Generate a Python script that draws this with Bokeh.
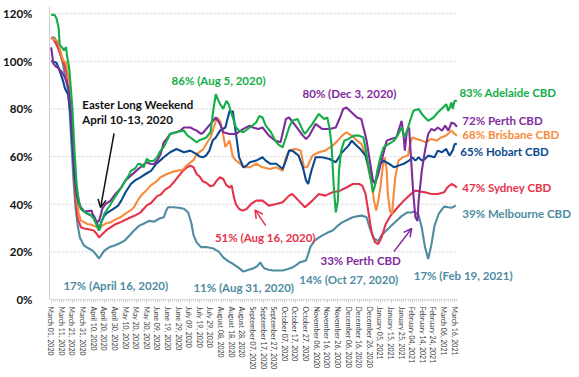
import pandas as pd
from bokeh.plotting import figure
from bokeh.models import (FixedTicker, DatetimeTickFormatter, PrintfTickFormatter,
                          Label, Arrow, OpenHead, Range1d)
from bokeh.embed import file_html
from bokeh.resources import INLINE

START = pd.Timestamp("2020-03-01")
START_MS = START.value // 10**6
DAY_MS = 86400000


def ms(d):
    return START_MS + d * DAY_MS


# ---- data: day offset from March 1, 2020 and % of pre-COVID activity ----
adelaide_day = [0, 3, 5, 7, 8, 10, 12, 14, 15, 17, 20, 22, 24, 26, 28, 31, 34, 37, 40, 43, 45, 47, 50, 53,
                56, 60, 63, 66, 70, 73, 75, 79, 82, 84, 87, 90, 93, 97, 100, 103, 106, 109, 112, 115, 118,
                121, 125, 128, 131, 134, 137, 140, 143, 146, 150, 153, 155, 157, 159, 162, 165, 167, 168,
                171, 174, 177, 181, 187, 193, 196, 199, 202, 207, 211, 214, 218, 221, 224, 227, 232, 237,
                239, 246, 252, 257, 260, 262, 264, 266, 268, 270, 271, 273, 276, 280, 285, 290, 294, 297,
                300, 303, 305, 307, 310, 313, 318, 323, 327, 330, 333, 336, 339, 341, 346, 349, 352, 355,
                360, 364, 369, 372, 374, 377, 378, 380, 382]
adelaide_pct = [119.5, 119.5, 118, 114, 107, 106, 104.5, 106, 102, 97, 80, 62, 48, 41, 38, 37, 36, 35.5, 34,
                31, 29, 32, 36, 38, 40, 43, 45, 47, 50, 52, 54, 55, 57, 56.9, 55.5, 59, 58, 58.3, 60, 62.5,
                64, 66.7, 69.5, 70, 70.2, 70.5, 70.9, 69, 68, 67, 66, 67, 67.4, 68, 70.2, 80.6, 86.2, 84, 82,
                80, 83.4, 82, 80.6, 76.4, 72.2, 70.9, 70.2, 72.2, 74.3, 77, 76.4, 73, 70.2, 66.7, 65, 63.9,
                68, 72.2, 75, 75.8, 70.9, 69.5, 73.7, 77.9, 75.8, 76.4, 72.2, 65, 48, 36.6, 41.5, 54, 62.5,
                66.7, 67.4, 68.8, 68.8, 68, 61, 52.7, 45, 48, 54, 59.7, 63.9, 65.3, 66.7, 69.5, 72.2, 68,
                72.2, 76.4, 79.2, 80, 77.9, 76.4, 75, 76.4, 78.5, 80.6, 82, 79.2, 82.7, 80, 83.4, 83.4]

perth_day = [0, 2, 4, 7, 10, 12, 14, 16, 18, 20, 22, 24, 26, 28, 31, 34, 38, 40, 43, 45, 47, 48, 51, 56, 60,
             63, 66, 70, 75, 80, 84, 90, 93, 97, 100, 103, 106, 109, 112, 118, 122, 125, 131, 134, 137,
             141, 143, 150, 155, 159, 162, 168, 174, 181, 187, 190, 195, 199, 205, 211, 216, 221, 224,
             230, 237, 240, 243, 249, 255, 262, 268, 272, 275, 278, 283, 288, 292, 294, 297, 300, 303,
             305, 308, 311, 316, 320, 325, 328, 330, 332, 333, 335, 337, 339, 341, 343, 345, 346, 349,
             352, 355, 358, 361, 364, 368, 371, 374, 377, 380, 382]
perth_pct = [105.8, 99, 98, 97, 95.5, 94, 92, 89, 82, 70, 57, 46, 41.5, 38, 37, 37, 37.3, 34.5, 32.4, 33, 36,
             38, 40, 41.5, 44, 45.5, 47, 50, 52, 54, 55.5, 57.6, 57, 56.9, 58.5, 61, 66, 67.5, 69.5, 70.2,
             71, 72.2, 72.2, 71.5, 70.9, 69.5, 70, 73.7, 76.4, 73.7, 70.2, 69.5, 69.5, 71.6, 73, 72.2,
             71.6, 72.2, 68.8, 66.7, 66, 75.8, 76.4, 73, 68.8, 67.4, 68.8, 73.7, 71.6, 71.6, 72.2, 76.4,
             80, 80.6, 78.5, 76.4, 75.8, 72.2, 66.7, 58.3, 50, 48.5, 52.7, 58.3, 66.7, 67.4, 68, 72.2, 75,
             68, 62.5, 70.9, 72.2, 58.3, 44.3, 34.5, 33, 41.5, 54, 62.5, 69.5, 71.6, 70.9, 72.2, 70.9, 73,
             70.9, 74.3, 73.7, 72.5]

brisbane_day = [0, 3, 6, 9, 10, 12, 14, 16, 18, 20, 22, 24, 26, 28, 31, 34, 37, 40, 43, 45, 48, 52, 56, 60,
                65, 70, 75, 78, 82, 86, 90, 94, 99, 103, 109, 114, 118, 124, 127, 131, 134, 137, 143, 147,
                150, 153, 156, 159, 162, 164, 168, 171, 174, 178, 181, 187, 193, 199, 206, 212, 218, 221,
                224, 230, 235, 238, 241, 246, 252, 258, 265, 270, 274, 278, 283, 288, 292, 296, 299, 302,
                304, 306, 308, 310, 311, 313, 314, 316, 317, 319, 321, 322, 324, 327, 331, 336, 338, 340,
                344, 349, 353, 358, 363, 367, 372, 377, 380, 382]
brisbane_pct = [110, 109, 108.6, 104, 102, 100, 99.4, 94, 85, 70, 55, 42, 36, 33, 32.5, 31.7, 31.5, 31, 30.3,
                29.5, 31, 32, 32.4, 33.5, 34.5, 36, 37.5, 38.7, 42, 44.3, 46, 48, 49.5, 51.3, 52.7, 53.5, 54,
                54.5, 56, 57.5, 58.5, 61, 63, 66, 68, 72, 76.4, 75, 69, 64, 66.7, 60, 58.3, 57, 55.5, 55.5,
                57, 55.5, 54.8, 55.5, 54, 59.7, 62.5, 63.2, 62.5, 55.5, 55.5, 60.4, 61.8, 62.5, 64.6, 66.7,
                68.8, 70.2, 68.8, 66.7, 65.3, 61, 54, 48.5, 41.5, 37.3, 41.5, 47, 51.3, 58.3, 59.7, 54, 44.3,
                37.3, 36, 41.5, 51.3, 58.3, 59.7, 60.4, 65.3, 68, 67.4, 66.7, 66, 67.4, 66.7, 68, 68.8, 70.9,
                69.5, 68.8]

hobart_day = [0, 2, 5, 8, 11, 13, 16, 18, 20, 22, 24, 26, 28, 31, 34, 37, 40, 43, 45, 47, 50, 53, 56, 60, 63,
              66, 70, 75, 79, 84, 90, 94, 99, 103, 106, 112, 118, 125, 131, 137, 140, 143, 146, 149, 152,
              155, 159, 164, 168, 170, 171, 174, 177, 181, 184, 187, 193, 199, 202, 206, 212, 218, 221,
              224, 227, 233, 237, 240, 242, 245, 249, 255, 262, 268, 271, 274, 280, 283, 286, 291, 296,
              299, 302, 305, 307, 310, 313, 318, 323, 327, 332, 337, 340, 343, 346, 349, 352, 355, 361,
              364, 368, 372, 375, 378, 380, 382]
hobart_pct = [100, 99.8, 99.4, 96, 92, 88.5, 86, 78, 65, 52, 44, 40, 38.7, 37, 36, 35.5, 35.2, 32.4, 29, 32.4,
              35.2, 36.5, 37.3, 38.5, 39.4, 41.5, 45, 48.5, 50, 51.3, 53, 54, 57, 58.5, 59.7, 61.8, 63.2,
              61.8, 62.5, 61, 60, 59.7, 60.5, 62.5, 66.7, 68, 70.9, 72.2, 79.2, 78.5, 79.2, 69.5, 59.7,
              55.5, 56.2, 57.6, 58.3, 59.7, 58.3, 57, 57, 54.8, 58.3, 62.5, 62.5, 60.4, 55.5, 50, 48.5, 54,
              59.7, 59.7, 59, 57.6, 59.7, 61.8, 64.6, 66.7, 65.3, 63.2, 60.4, 55.5, 50, 49.2, 52, 57, 58.3,
              57, 55.5, 56.2, 57, 58.3, 59.7, 58.3, 59.7, 58.3, 59, 60.4, 59.7, 62.5, 61.8, 63.2, 60.4,
              62.5, 65.3, 65.3]

sydney_day = [0, 3, 6, 8, 11, 13, 15, 17, 19, 21, 23, 25, 28, 31, 34, 37, 40, 43, 45, 47, 50, 53, 56, 60, 65,
              70, 75, 80, 84, 87, 90, 94, 97, 100, 103, 107, 112, 115, 119, 124, 128, 131, 134, 137, 140,
              143, 146, 150, 153, 156, 159, 162, 165, 168, 170, 172, 174, 177, 180, 184, 188, 193, 199,
              205, 211, 218, 224, 227, 233, 239, 246, 252, 258, 265, 271, 278, 284, 290, 293, 296, 299,
              302, 305, 308, 311, 315, 320, 326, 332, 338, 343, 348, 352, 358, 364, 370, 373, 377, 380, 382]
sydney_pct = [110, 108.6, 106, 103.6, 100, 98, 94, 88, 75, 58, 42, 34, 30.3, 29.8, 29.6, 29.3, 29, 27.5, 26,
              27, 28.2, 29.5, 30.3, 31.5, 32.4, 33.5, 34.5, 35.5, 36.5, 38, 39.5, 40.5, 42, 43.5, 44, 46,
              47.5, 49, 51.3, 54, 55.5, 56.2, 55.5, 52.7, 51.5, 49.5, 49, 47.5, 48, 50, 51.3, 50.6, 48, 47,
              47.8, 43, 40, 38, 37.3, 38, 40, 41.5, 41.5, 39.4, 40, 40.8, 43.6, 44.3, 41.5, 38.7, 41.5,
              44.3, 43.6, 45, 45.5, 47, 48.5, 48.5, 47.8, 44.3, 36, 27.5, 24, 23.3, 26, 31.7, 35.5, 38.5,
              41.5, 44, 45.7, 45.3, 45, 44.3, 44.3, 45, 47, 48.5, 47.8, 47]

melbourne_day = [0, 3, 6, 8, 11, 13, 15, 17, 19, 21, 23, 25, 27, 31, 35, 39, 42, 45, 47, 50, 55, 59, 64, 69,
                 74, 78, 83, 87, 92, 97, 102, 106, 108, 110, 115, 120, 125, 129, 132, 134, 137, 141, 146,
                 153, 158, 162, 167, 171, 176, 181, 186, 190, 194, 197, 199, 201, 205, 209, 213, 218, 223,
                 227, 231, 234, 237, 240, 242, 244, 248, 252, 255, 260, 265, 270, 274, 279, 284, 289, 293,
                 297, 300, 304, 308, 311, 318, 324, 330, 335, 339, 342, 346, 349, 352, 355, 358, 361, 365,
                 370, 374, 377, 381]
melbourne_pct = [110, 110, 107, 104, 99, 94, 90, 82, 66, 50, 38, 31, 26, 22.6, 21.5, 20.5, 19, 17.2, 18.5,
                 20.5, 22, 22.6, 23.5, 24.7, 27, 29, 31, 31.8, 33, 32.7, 34, 34.5, 37, 38.7, 38.7, 38.5, 38.1,
                 36.5, 32, 27, 24, 22, 22, 21.4, 20, 17.7, 16, 15, 13.5, 11.7, 12.5, 13, 14, 15.6, 14, 13,
                 12.5, 12.2, 12.2, 12.2, 12.8, 13.4, 14.5, 15.6, 16, 16.4, 19, 22, 24.7, 26, 26.8, 28, 29, 31,
                 32.4, 33.5, 34.5, 35, 35.2, 34.5, 30, 25.6, 24.5, 27, 30, 32.5, 35, 36.5, 36.5, 37, 35.5, 30,
                 22, 17, 23, 31, 36, 39, 38.7, 38.5, 39.4]

x_tick_days = list(range(0, 381, 10))
y_ticks = [0, 20, 40, 60, 80, 100, 120]

series = [
    (melbourne_day, melbourne_pct, "#4E8CA2"),
    (sydney_day, sydney_pct, "#E5334B"),
    (brisbane_day, brisbane_pct, "#F78B3D"),
    (hobart_day, hobart_pct, "#0B4A8E"),
    (perth_day, perth_pct, "#7F2B9C"),
    (adelaide_day, adelaide_pct, "#14AE48"),
]

FONT = "Lato"
AXIS_START = -1.6   # day at left frame edge
AXIS_END = 382.5    # day where the axis line / grid stop
VIEW_END = 497.5    # right edge of the canvas (room for end labels)

p = figure(width=579, height=377, x_axis_type="datetime",
           x_range=Range1d(ms(AXIS_START), ms(VIEW_END)), y_range=Range1d(0, 123),
           output_backend="svg", toolbar_location=None,
           min_border_left=45, min_border_right=0, min_border_top=6, min_border_bottom=78)
p.outline_line_color = None
p.background_fill_color = "white"

# gridlines and axis line limited to the data span
grid_y = y_ticks[1:]
p.segment(x0=[ms(AXIS_START)] * len(grid_y), x1=[ms(AXIS_END)] * len(grid_y), y0=grid_y, y1=grid_y,
          line_color="#cfcfcf", line_dash="2 2", line_width=1)
p.segment(x0=[ms(AXIS_START)], x1=[ms(AXIS_END)], y0=[0], y1=[0], line_color="#bfbfbf", line_width=1)

for days, vals, col in series:
    p.line([ms(d) for d in days], vals, line_color=col, line_width=2.1)

# axes
p.xaxis.ticker = FixedTicker(ticks=[ms(d) for d in x_tick_days],
                             minor_ticks=[ms(d) for d in range(0, 383, 2)])
fmt = "%B %d, %Y"
p.xaxis.formatter = DatetimeTickFormatter(days=fmt, months=fmt, years=fmt, hours=fmt,
                                          hourmin=fmt, minutes=fmt, minsec=fmt, seconds=fmt,
                                          milliseconds=fmt, microseconds=fmt)
p.xaxis.major_label_orientation = "vertical"
p.xaxis.major_label_text_font_size = "7px"
p.xaxis.major_label_text_font = FONT
p.xaxis.major_label_text_color = "#404040"
p.xaxis.major_label_standoff = 4
p.xaxis.axis_line_color = None
p.xaxis.major_tick_line_color = "#bfbfbf"
p.xaxis.major_tick_out = 3
p.xaxis.major_tick_in = 0
p.xaxis.minor_tick_line_color = "#d0d0d0"
p.xaxis.minor_tick_out = 2
p.xaxis.minor_tick_in = 0

p.yaxis.ticker = FixedTicker(ticks=y_ticks)
p.yaxis.formatter = PrintfTickFormatter(format="%d%%")
p.yaxis.major_label_text_font_size = "11.5px"
p.yaxis.major_label_text_font = FONT
p.yaxis.major_label_text_font_style = "bold"
p.yaxis.major_label_text_color = "#111111"
p.yaxis.major_label_standoff = 11
p.yaxis.axis_line_color = "#d0d0d0"
p.yaxis.major_tick_line_color = None
p.yaxis.minor_tick_line_color = None

p.xgrid.grid_line_color = None
p.ygrid.grid_line_color = None


def lab(text, d, v, color, align="left"):
    p.add_layout(Label(x=ms(d), y=v, text=text, text_color=color, text_font=FONT,
                       text_font_style="bold", text_font_size="11.5px",
                       text_baseline="middle", text_align=align))


lab("83% Adelaide CBD", 384.4, 86.9, "#14AE48")
lab("72% Perth CBD", 387.2, 75.1, "#7F2B9C")
lab("68% Brisbane CBD", 387.2, 69.2, "#F78B3D")
lab("65% Hobart CBD", 385.3, 62.1, "#0B4A8E")
lab("47% Sydney CBD", 387.2, 47.0, "#E5334B")
lab("39% Melbourne CBD", 387.2, 36.1, "#4E8CA2")
lab("86% (Aug 5, 2020)", 113.4, 91.9, "#14AE48")
lab("80% (Dec 3, 2020)", 236.7, 86.4, "#7F2B9C")
lab("Easter Long Weekend", 29.3, 81.8, "#111111")
lab("April 10-13, 2020", 29.3, 75.7, "#111111")
lab("17% (April 16, 2020)", 11.5, 5.9, "#4E8CA2")
lab("11% (Aug 31, 2020)", 133.9, 5.0, "#4E8CA2")
lab("14% (Oct 27, 2020)", 233.6, 8.4, "#4E8CA2")
lab("51% (Aug 16, 2020)", 154.2, 25.9, "#E5334B")
lab("33% Perth CBD", 253.6, 16.2, "#7F2B9C")
lab("17% (Feb 19, 2021)", 341.4, 10.1, "#4E8CA2")


def arrow(d0, v0, d1, v1, color):
    p.add_layout(Arrow(end=OpenHead(size=8, line_color=color, line_width=1.5),
                       x_start=ms(d0), y_start=v0, x_end=ms(d1), y_end=v1,
                       line_color=color, line_width=1.5))


arrow(59.2, 69.7, 46.5, 38.6, "#111111")
arrow(202.1, 31.0, 191.9, 37.6, "#E5334B")
arrow(322.7, 20.1, 339.5, 29.8, "#7F2B9C")

open("out.html", "w").write(file_html(p, INLINE))
